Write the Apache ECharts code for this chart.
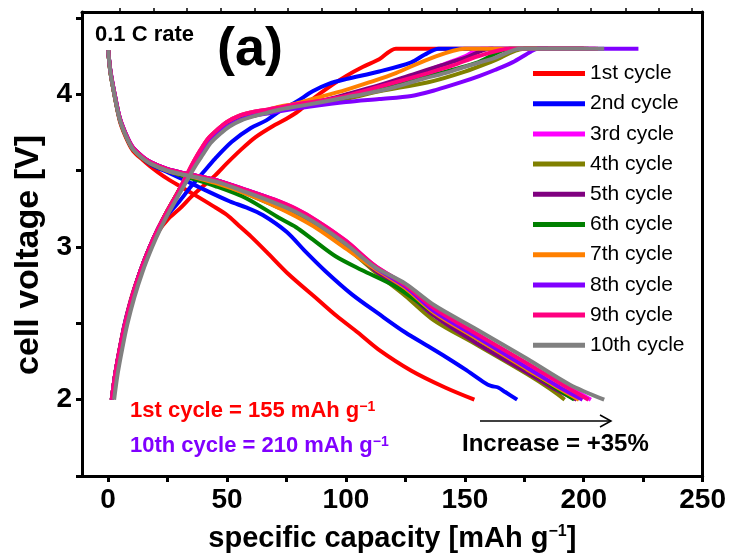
<!DOCTYPE html>
<html><head><meta charset="utf-8">
<script src="https://cdn.jsdelivr.net/npm/echarts@6/dist/echarts.min.js"></script>
<style>html,body{margin:0;padding:0;background:#fff}#c{width:729px;height:558px}</style>
</head><body><div id="c"></div>
<script>
const cycleNames = ['1st cycle','2nd cycle','3rd cycle','4th cycle','5th cycle','6th cycle','7th cycle','8th cycle','9th cycle','10th cycle'];
const cycleColors = ['#ff0000','#0000ff','#ff00ff','#808000','#800080','#008000','#ff8000','#8000ff','#ff0080','#808080'];
const xTickValues = [0,25,50,75,100,125,150,175,200,225,250];
const xLabelValues = [0,50,100,150,200,250];
const yTickValues = [1.5,2,2.5,3,3.5,4,4.5];
const yLabelValues = [2,3,4];
const topTickValues = [5,19,33,47.5,61.5,75.5,90,104,118,132,146.5,160.5,175,189,203,217.5,231.5,245.5];

// charge curves [capacity, voltage]
const chg1 = [[1.5,2.0],[3,2.17],[5,2.35],[7,2.5],[10,2.68],[13.5,2.84],[17.5,3.0],[21,3.1],[25,3.18],[30,3.25],[35,3.33],[40,3.4],[45,3.47],[50,3.55],[56,3.64],[62,3.72],[69,3.79],[75,3.84],[80,3.89],[86,3.97],[93,4.05],[100,4.12],[107,4.18],[114,4.23],[121,4.3],[162,4.3]];
const chg2 = [[1.5,2.0],[3,2.17],[5,2.34],[7,2.5],[10,2.67],[13.5,2.84],[17.5,3.0],[21,3.11],[25,3.21],[30,3.3],[35,3.4],[40,3.49],[45,3.58],[52,3.69],[60,3.78],[66.5,3.83],[72,3.89],[79,3.95],[86,4.02],[93,4.07],[100,4.1],[114,4.15],[127.5,4.21],[133,4.26],[139,4.3],[185,4.3]];
const chg3 = [[1.5,2.0],[3,2.17],[5,2.34],[7,2.49],[10,2.67],[13.5,2.84],[17.5,3.0],[21,3.12],[25,3.24],[29,3.35],[33,3.47],[36,3.56],[39,3.64],[42,3.71],[46,3.77],[50,3.82],[55,3.86],[61,3.885],[67,3.9],[72,3.915],[79,3.935],[90,3.96],[100,3.99],[114,4.05],[128,4.12],[140,4.19],[150,4.25],[157,4.3],[205,4.3]];
const chg4 = [[1.5,2.0],[3,2.17],[5,2.34],[7,2.49],[10,2.67],[13.5,2.84],[17.5,3.0],[21,3.12],[25,3.24],[29,3.35],[33,3.46],[36,3.55],[39,3.63],[42,3.7],[46,3.76],[50,3.81],[55,3.85],[61,3.875],[67,3.89],[72,3.9],[79,3.92],[90,3.95],[100,3.97],[114,4.02],[134.6,4.08],[150,4.15],[162,4.22],[175,4.3],[200,4.3]];
const chg5 = [[1.5,2.0],[3,2.17],[5,2.34],[7,2.49],[10,2.67],[13.5,2.84],[17.5,3.0],[21,3.12],[25,3.24],[29,3.35],[33,3.46],[36,3.55],[39,3.63],[42,3.7],[46,3.76],[50,3.81],[55,3.85],[61,3.88],[67,3.895],[72,3.91],[79,3.93],[90,3.96],[100,4.0],[114,4.06],[128,4.13],[140,4.19],[150,4.24],[161,4.3],[200,4.3]];
const chg6 = [[1.5,2.0],[3,2.17],[5,2.34],[7,2.49],[10,2.67],[13.5,2.84],[17.5,3.0],[21,3.12],[25,3.24],[29,3.35],[33,3.46],[36,3.55],[39,3.63],[42,3.7],[46,3.76],[50,3.81],[55,3.85],[61,3.88],[67,3.895],[72,3.91],[79,3.93],[90,3.95],[100,3.98],[114,4.04],[134.6,4.12],[155.5,4.21],[169,4.3],[202,4.3]];
const chg7 = [[1.5,2.0],[3,2.17],[5,2.34],[7,2.49],[10,2.67],[13.5,2.84],[17.5,3.0],[21,3.12],[25,3.24],[29,3.35],[33,3.47],[36,3.56],[39,3.64],[42,3.71],[46,3.77],[50,3.82],[55,3.86],[61,3.885],[67,3.9],[72,3.92],[79,3.94],[86,3.97],[100,4.03],[110,4.08],[121,4.14],[134.6,4.23],[150,4.3],[201,4.3]];
const chg8 = [[1.5,2.0],[3,2.17],[5,2.34],[7,2.49],[10,2.67],[13.5,2.84],[17.5,3.0],[21,3.12],[25,3.23],[29,3.34],[33,3.45],[37,3.57],[41,3.66],[45,3.73],[50,3.79],[55,3.83],[61,3.86],[67,3.875],[72,3.89],[85,3.92],[100,3.95],[114,3.97],[127.5,3.99],[138,4.03],[148.5,4.08],[156,4.12],[162.6,4.16],[170,4.21],[177.7,4.28],[180.6,4.3],[223,4.3]];
const chg9 = [[1.5,2.0],[3,2.17],[5,2.34],[7,2.49],[10,2.67],[13.5,2.84],[17.5,3.0],[21,3.12],[25,3.24],[29,3.35],[33,3.47],[36,3.56],[39,3.64],[42,3.71],[46,3.77],[50,3.82],[55,3.86],[61,3.885],[67,3.9],[72,3.915],[79,3.935],[90,3.96],[100,3.99],[114,4.05],[134.6,4.14],[145,4.19],[155.5,4.25],[169,4.3],[206,4.3]];
const chg10 = [[2.5,2.0],[4,2.17],[6,2.34],[8,2.49],[11,2.67],[14.5,2.84],[18.5,3.0],[22,3.12],[26,3.24],[30,3.35],[34,3.46],[37,3.54],[40,3.61],[43,3.68],[47,3.74],[51,3.79],[56,3.83],[62,3.86],[67,3.88],[72,3.9],[79,3.92],[90,3.95],[100,3.98],[110,4.01],[121,4.05],[132,4.1],[141.7,4.14],[152,4.19],[162.6,4.24],[173.5,4.3],[208.6,4.3]];

// discharge curves [capacity, voltage]
const dis1 = [[0,4.29],[1,4.14],[3,3.97],[5,3.82],[8,3.7],[10.5,3.63],[14.6,3.57],[17.6,3.53],[21,3.49],[24.7,3.45],[30,3.4],[35.5,3.35],[44,3.27],[50,3.21],[55,3.14],[60,3.07],[66.5,2.97],[76,2.82],[88.6,2.65],[96,2.55],[105,2.44],[113.6,2.33],[127.5,2.19],[141.7,2.08],[154,2.0]];
const dis2 = [[0,4.29],[1,4.14],[3,3.97],[5,3.83],[8,3.71],[10.5,3.64],[14.6,3.58],[18,3.54],[25,3.49],[32,3.44],[38.5,3.39],[51,3.3],[58,3.26],[65,3.21],[75,3.1],[83,2.97],[91.5,2.84],[102.5,2.69],[114,2.56],[125,2.44],[134.6,2.35],[142,2.28],[150,2.2],[158.4,2.11],[161,2.09],[164,2.08],[167,2.05],[172,2.0]];
const dis3 = [[0,4.29],[1,4.15],[3,3.98],[5,3.84],[8,3.72],[10.5,3.65],[14.6,3.59],[18,3.555],[25,3.51],[33,3.48],[45,3.44],[58,3.375],[70,3.31],[79,3.25],[88,3.17],[100,3.04],[112,2.88],[125,2.75],[137,2.6],[155,2.43],[176,2.23],[193,2.09],[203,2.0]];
const dis4 = [[0,4.29],[1,4.14],[3,3.97],[5,3.83],[8,3.71],[10.5,3.64],[14.6,3.58],[18,3.545],[25,3.5],[33,3.46],[45,3.42],[58,3.35],[70,3.27],[79,3.21],[88,3.13],[100,3.0],[112,2.84],[125,2.68],[137,2.52],[155,2.36],[176,2.17],[186,2.07],[192,2.0]];
const dis5 = [[0,4.29],[1,4.15],[3,3.98],[5,3.84],[8,3.72],[10.5,3.65],[14.6,3.59],[18,3.555],[25,3.51],[33,3.48],[45,3.44],[58,3.37],[70,3.3],[79,3.24],[88,3.16],[100,3.02],[112,2.85],[125,2.71],[137,2.55],[155,2.37],[176,2.18],[189,2.06],[197,2.0]];
const dis6 = [[0,4.29],[1,4.14],[3,3.97],[5,3.83],[8,3.71],[10.5,3.64],[14.6,3.58],[18,3.545],[25,3.5],[33,3.46],[45,3.4],[58,3.32],[72,3.19],[79,3.13],[86,3.05],[95.6,2.94],[106.6,2.85],[121,2.74],[136,2.58],[155,2.4],[176,2.2],[188,2.08],[196,2.0]];
const dis7 = [[0,4.29],[1,4.14],[3,3.97],[5,3.83],[8,3.71],[10.5,3.64],[14.6,3.58],[18,3.55],[25,3.5],[33,3.47],[45,3.42],[58,3.35],[70,3.27],[79,3.2],[88,3.12],[100,2.99],[112,2.86],[125,2.73],[137,2.57],[155,2.4],[176,2.2],[189,2.08],[198,2.0]];
const dis8 = [[0,4.29],[1,4.15],[3,3.98],[5,3.84],[8,3.72],[10.5,3.65],[14.6,3.59],[18,3.555],[25,3.51],[33,3.48],[45,3.44],[58,3.375],[70,3.31],[79,3.245],[88,3.165],[100,3.03],[112,2.87],[125,2.74],[137,2.58],[155,2.41],[176,2.21],[190,2.08],[199.5,2.0]];
const dis9 = [[0,4.29],[1,4.15],[3,3.98],[5,3.84],[8,3.72],[10.5,3.65],[14.6,3.59],[18,3.555],[25,3.51],[33,3.48],[45,3.44],[58,3.375],[70,3.31],[79,3.25],[88,3.17],[100,3.04],[112,2.88],[125,2.75],[137,2.6],[155,2.43],[176,2.24],[192,2.09],[202,2.0]];
const dis10 = [[0,4.29],[1,4.14],[3,3.97],[5,3.83],[8,3.71],[10.5,3.64],[14.6,3.58],[18,3.545],[25,3.5],[33,3.47],[45,3.43],[58,3.36],[70,3.29],[79,3.23],[88,3.15],[100,3.02],[112,2.87],[125,2.76],[137,2.62],[155,2.46],[176,2.27],[194,2.1],[208.6,2.0]];

const chargeData = [chg1,chg2,chg3,chg4,chg5,chg6,chg7,chg8,chg9,chg10];
const dischargeData = [dis1,dis2,dis3,dis4,dis5,dis6,dis7,dis8,dis9,dis10];

const FONT = 'Liberation Sans, Arial, sans-serif';
const series = [];
for (let i = 0; i < cycleNames.length; i++) {
  [chargeData[i], dischargeData[i]].forEach(d => {
    series.push({
      type: 'line', name: cycleNames[i], data: d, showSymbol: false, smooth: 0.3,
      lineStyle: {width: 4, color: cycleColors[i]}, itemStyle: {color: cycleColors[i]},
      xAxisIndex: 0, yAxisIndex: 0, z: 2 + i, animation: false
    });
  });
}

const sup = {fontSize: 14, fontWeight: 'bold', verticalAlign: 'top', fontFamily: FONT};
const chart = echarts.init(document.getElementById('c'), null, {renderer: 'canvas'});
chart.setOption({
  animation: false,
  backgroundColor: '#fff',
  grid: {left: 82, right: 23, top: 12, bottom: 78},
  legend: {
    orient: 'vertical', left: 528, top: 58, itemWidth: 52, itemHeight: 5, itemGap: 9.2, icon: 'rect',
    data: cycleNames,
    textStyle: {fontSize: 21, lineHeight: 21, color: '#000', fontFamily: FONT}
  },
  xAxis: [{
    type: 'value', position: 'bottom', min: -11, max: 250,
    axisLine: {show: true, onZero: false, lineStyle: {color: '#000', width: 3}},
    axisTick: {show: true, customValues: xTickValues, length: 6, lineStyle: {width: 3, color: '#000'}},
    axisLabel: {customValues: xLabelValues, fontSize: 28, fontWeight: 'bold', color: '#000', fontFamily: FONT, margin: 10},
    splitLine: {show: false},
    name: 'specific capacity [mAh g{s|−1}]', nameLocation: 'middle', nameGap: 48,
    nameTextStyle: {fontSize: 29, fontWeight: 'bold', color: '#000', fontFamily: FONT, rich: {s: Object.assign({}, sup, {fontSize: 16})}}
  }, {
    type: 'value', position: 'top', min: -11, max: 250,
    axisLine: {show: true, onZero: false, lineStyle: {color: '#000', width: 3}},
    axisTick: {show: true, customValues: topTickValues, length: 4, lineStyle: {width: 1.5, color: '#000'}},
    axisLabel: {show: false}, splitLine: {show: false}
  }],
  yAxis: [{
    type: 'value', position: 'left', min: 1.5, max: 4.54,
    axisLine: {show: true, onZero: false, lineStyle: {color: '#000', width: 3}},
    axisTick: {show: true, customValues: yTickValues, length: 6, lineStyle: {width: 3, color: '#000'}},
    axisLabel: {customValues: yLabelValues, fontSize: 28, fontWeight: 'bold', color: '#000', fontFamily: FONT, margin: 10},
    splitLine: {show: false},
    name: 'cell voltage [V]', nameLocation: 'middle', nameGap: 35, nameRotate: 90,
    nameTextStyle: {fontSize: 34, fontWeight: 'bold', color: '#000', fontFamily: FONT, padding: [0, 22, 0, 0]}
  }, {
    type: 'value', position: 'right', min: 1.5, max: 4.54,
    axisLine: {show: true, onZero: false, lineStyle: {color: '#000', width: 3}},
    axisTick: {show: false}, axisLabel: {show: false}, splitLine: {show: false}
  }],
  series: series,
  graphic: [
    {type: 'text', left: 95, top: 24, style: {text: '0.1 C rate', fontSize: 22, fontWeight: 'bold', fill: '#000', fontFamily: FONT}},
    {type: 'text', left: 217, top: 23, style: {text: '(a)', fontSize: 54, fontWeight: 'bold', fill: '#000', fontFamily: FONT}},
    {type: 'text', left: 130, top: 400, style: {text: '1st cycle = 155 mAh g{s|−1}', fontSize: 22, fontWeight: 'bold', fill: '#ff0000', fontFamily: FONT, rich: {s: Object.assign({}, sup, {fill: '#ff0000'})}}},
    {type: 'text', left: 130, top: 435, style: {text: '10th cycle = 210 mAh g{s|−1}', fontSize: 22, fontWeight: 'bold', fill: '#8000ff', fontFamily: FONT, rich: {s: Object.assign({}, sup, {fill: '#8000ff'})}}},
    {type: 'text', left: 462, top: 432, style: {text: 'Increase = +35%', fontSize: 24, fontWeight: 'bold', fill: '#000', fontFamily: FONT}},
    {type: 'line', shape: {x1: 480, y1: 421, x2: 611, y2: 421}, style: {stroke: '#000', lineWidth: 1.5}},
    {type: 'polyline', shape: {points: [[600, 415], [611, 421], [600, 427]]}, style: {stroke: '#000', lineWidth: 1.5, fill: null}}
  ]
});
</script></body></html>
